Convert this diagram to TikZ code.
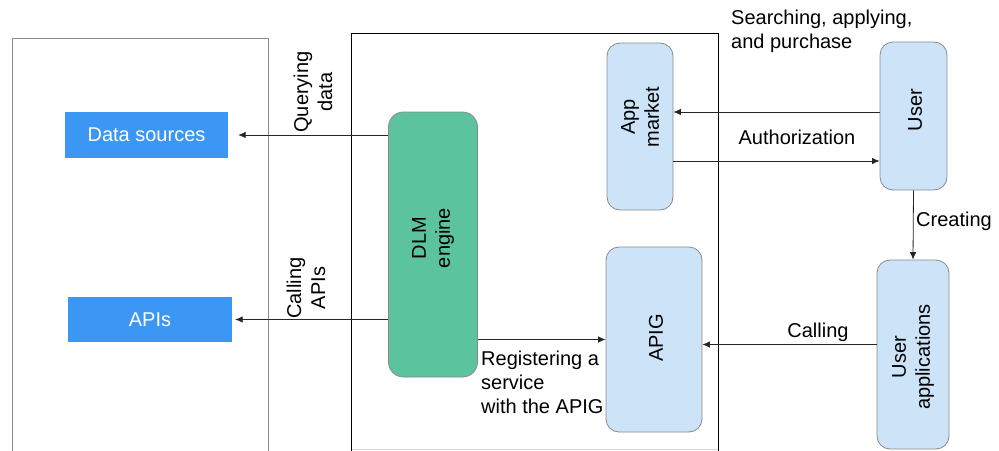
\documentclass[tikz,border=0pt]{standalone}
\usepackage{fontspec}
\setmainfont{Liberation Sans}
\usetikzlibrary{arrows.meta}
\definecolor{dsblue}{HTML}{3C96F4}
\definecolor{dlmgreen}{HTML}{5BC49F}
\definecolor{lblue}{HTML}{CCE3F8}
\definecolor{bordergray}{HTML}{8A8A8A}
\tikzset{
  txt/.style={font=\fontsize{20}{24}\selectfont, inner sep=0pt, align=center},
  ltxt/.style={font=\fontsize{20}{24}\selectfont, inner sep=0pt, align=left},
  bluebox/.style={fill=dsblue, draw=none, inner sep=0pt, text=white, font=\fontsize{20}{24}\selectfont},
  lightbox/.style={fill=lblue, draw=bordergray, line width=0.8pt, rounded corners=13pt, inner sep=0pt},
  greenbox/.style={fill=dlmgreen, draw=bordergray, line width=0.8pt, rounded corners=15pt, inner sep=0pt},
  arr/.style={draw=black!85, line width=0.8pt, -{Latex[length=7.5pt,width=6.5pt]}},
}
\begin{document}
\begin{tikzpicture}[x=1pt,y=-1pt]
\useasboundingbox (0,0) rectangle (999,450);
% containers
\draw[bordergray, line width=0.8pt] (12.5,452) -- (12.5,38.5) -- (268.5,38.5) -- (268.5,452);
\draw[black!15, line width=0.8pt] (351.5,449.5) -- (718.5,449.5);
\draw[black, line width=0.8pt] (351.5,452) -- (351.5,33.5) -- (718.5,33.5) -- (718.5,452);
% nodes
\node[bluebox, minimum width=163pt, minimum height=46pt] (ds) at (146.5,135) {Data sources};
\node[bluebox, minimum width=164pt, minimum height=45pt] (apis) at (150,319.5) {APIs};
\node[greenbox, minimum width=89pt, minimum height=265pt] (dlm) at (433,244.5) {};
\node[txt, rotate=90] (dlmt) at (433,238) {DLM\\engine};
\node[lightbox, minimum width=66pt, minimum height=167pt] (app) at (640,126.5) {};
\node[txt, rotate=90] (appt) at (640,117) {App\\market};
\node[lightbox, minimum width=67pt, minimum height=148pt] (user) at (913.5,116) {};
\node[txt, rotate=90] (usert) at (915,110) {User};
\node[lightbox, minimum width=96pt, minimum height=185pt] (apig) at (654,339.5) {};
\node[txt, rotate=90] (apigt) at (656,338) {APIG};
\node[lightbox, minimum width=72pt, minimum height=189pt] (ua) at (913,354.5) {};
\node[txt, rotate=90] (uat) at (913,357) {User\\applications};
% connectors
\draw[arr, shorten >=10pt] (ds.east -| dlm.west) -- (ds.east);
\draw[arr, shorten >=3pt] (apis.east -| dlm.west) -- (apis.east);
\draw[arr] (apig.west -| dlm.east) -- (apig.west);
\draw[arr] ([yshift=-5pt]apig.east -| ua.west) -- ([yshift=-5pt]apig.east);
\draw[arr] (user.west |- 0,112) -- (app.east |- 0,112);
\draw[arr] (app.east |- 0,161) -- (user.west |- 0,161);
\draw[arr] (user.south) -- (ua.north);
% labels
\node[txt, rotate=90] (lq) at (313,92) {Querying\\data};
\node[txt, rotate=90] (lc) at (306,288) {Calling\\APIs};
\node[ltxt, anchor=north west] (ls) at (731,10) {Searching, applying,\\and purchase};
\node[txt] (la) at (797,137) {Authorization};
\node[ltxt, anchor=west] (lcr) at (916,221) {Creating};
\node[txt] (lcall) at (818,332) {Calling};
\node[ltxt, anchor=north west] (lr) at (481,351) {Registering a\\service\\with the APIG};
\end{tikzpicture}
\end{document}
